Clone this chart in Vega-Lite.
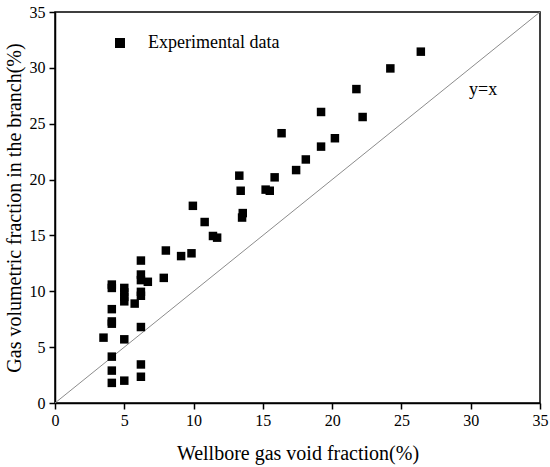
{
  "$schema": "https://vega.github.io/schema/vega-lite/v6.json",
  "autosize": "none",
  "width": 485,
  "height": 391,
  "padding": {"left": 55, "top": 12, "right": 10, "bottom": 64},
  "background": "white",
  "config": {
    "view": {"stroke": "black", "strokeWidth": 1.5},
    "axis": {
      "domainColor": "black", "domainWidth": 1.5,
      "tickColor": "black", "tickWidth": 1.5,
      "labelFont": "Liberation Serif", "labelFontSize": 16, "labelColor": "black",
      "titleFont": "Liberation Serif", "titleFontSize": 20, "titleFontWeight": "normal", "titleColor": "black",
      "grid": false
    }
  },
  "datasets": {
    "points": [
      {"x": 3.5, "y": 5.85, "series": "Experimental data"},
      {"x": 4.1, "y": 10.6, "series": "Experimental data"},
      {"x": 4.1, "y": 10.3, "series": "Experimental data"},
      {"x": 4.1, "y": 8.4, "series": "Experimental data"},
      {"x": 4.1, "y": 7.3, "series": "Experimental data"},
      {"x": 4.1, "y": 7.1, "series": "Experimental data"},
      {"x": 4.1, "y": 4.15, "series": "Experimental data"},
      {"x": 4.1, "y": 2.9, "series": "Experimental data"},
      {"x": 4.1, "y": 1.8, "series": "Experimental data"},
      {"x": 5.0, "y": 10.3, "series": "Experimental data"},
      {"x": 5.0, "y": 9.9, "series": "Experimental data"},
      {"x": 5.0, "y": 9.5, "series": "Experimental data"},
      {"x": 5.0, "y": 9.1, "series": "Experimental data"},
      {"x": 5.0, "y": 5.7, "series": "Experimental data"},
      {"x": 5.0, "y": 2.0, "series": "Experimental data"},
      {"x": 5.75, "y": 8.9, "series": "Experimental data"},
      {"x": 6.2, "y": 12.75, "series": "Experimental data"},
      {"x": 6.2, "y": 11.5, "series": "Experimental data"},
      {"x": 6.2, "y": 11.0, "series": "Experimental data"},
      {"x": 6.7, "y": 10.85, "series": "Experimental data"},
      {"x": 6.2, "y": 9.95, "series": "Experimental data"},
      {"x": 6.2, "y": 9.6, "series": "Experimental data"},
      {"x": 6.2, "y": 6.8, "series": "Experimental data"},
      {"x": 6.2, "y": 3.45, "series": "Experimental data"},
      {"x": 6.2, "y": 2.35, "series": "Experimental data"},
      {"x": 7.85, "y": 11.2, "series": "Experimental data"},
      {"x": 8.0, "y": 13.65, "series": "Experimental data"},
      {"x": 9.1, "y": 13.15, "series": "Experimental data"},
      {"x": 9.85, "y": 13.4, "series": "Experimental data"},
      {"x": 9.95, "y": 17.65, "series": "Experimental data"},
      {"x": 10.8, "y": 16.2, "series": "Experimental data"},
      {"x": 11.4, "y": 14.95, "series": "Experimental data"},
      {"x": 11.7, "y": 14.8, "series": "Experimental data"},
      {"x": 13.3, "y": 20.35, "series": "Experimental data"},
      {"x": 13.4, "y": 19.0, "series": "Experimental data"},
      {"x": 13.55, "y": 17.0, "series": "Experimental data"},
      {"x": 13.5, "y": 16.6, "series": "Experimental data"},
      {"x": 15.2, "y": 19.1, "series": "Experimental data"},
      {"x": 15.5, "y": 19.0, "series": "Experimental data"},
      {"x": 15.85, "y": 20.2, "series": "Experimental data"},
      {"x": 16.35, "y": 24.15, "series": "Experimental data"},
      {"x": 17.4, "y": 20.85, "series": "Experimental data"},
      {"x": 18.1, "y": 21.8, "series": "Experimental data"},
      {"x": 19.2, "y": 22.95, "series": "Experimental data"},
      {"x": 19.2, "y": 26.05, "series": "Experimental data"},
      {"x": 20.2, "y": 23.7, "series": "Experimental data"},
      {"x": 21.75, "y": 28.1, "series": "Experimental data"},
      {"x": 22.2, "y": 25.6, "series": "Experimental data"},
      {"x": 24.2, "y": 29.95, "series": "Experimental data"},
      {"x": 26.4, "y": 31.45, "series": "Experimental data"}
    ],
    "diag": [{"x": 0, "y": 0}, {"x": 35, "y": 35}],
    "note": [{"x": 30.9, "y": 28.0, "label": "y=x"}]
  },
  "layer": [
    {
      "data": {"name": "diag"},
      "mark": {"type": "line", "color": "#8c8c8c", "strokeWidth": 1},
      "encoding": {
        "x": {
          "field": "x", "type": "quantitative",
          "scale": {"domain": [0, 35], "nice": false, "zero": false},
          "axis": {
            "title": "Wellbore gas void fraction(%)",
            "values": [0, 2.5, 5, 7.5, 10, 12.5, 15, 17.5, 20, 22.5, 25, 27.5, 30, 32.5, 35],
            "labelExpr": "datum.value % 5 === 0 ? datum.label : ''",
            "tickSize": {"condition": {"test": "datum.value % 5 !== 0", "value": 3}, "value": 6},
            "labelFont": "Liberation Serif",
            "labelFontSize": 16,
            "labelPadding": 3,
            "titlePadding": 15,
            "labelFlush": false,
            "labelOverlap": false
          }
        },
        "y": {
          "field": "y", "type": "quantitative",
          "scale": {"domain": [0, 35], "nice": false, "zero": false},
          "axis": {
            "title": "Gas volumetric fraction in the branch(%)",
            "values": [0, 2.5, 5, 7.5, 10, 12.5, 15, 17.5, 20, 22.5, 25, 27.5, 30, 32.5, 35],
            "labelExpr": "datum.value % 5 === 0 ? datum.label : ''",
            "tickSize": {"condition": {"test": "datum.value % 5 !== 0", "value": 3}, "value": 6},
            "labelFont": "Liberation Serif",
            "labelFontSize": 16,
            "labelPadding": 4,
            "titlePadding": 5,
            "labelFlush": false,
            "labelOverlap": false
          }
        }
      }
    },
    {
      "data": {"name": "points"},
      "mark": {"type": "square", "size": 72, "opacity": 1, "filled": true},
      "encoding": {
        "x": {"field": "x", "type": "quantitative"},
        "y": {"field": "y", "type": "quantitative"},
        "color": {
          "field": "series", "type": "nominal",
          "scale": {"range": ["black"]},
          "legend": {
            "title": null,
            "orient": "none",
            "legendX": 56,
            "legendY": 22,
            "padding": 0,
            "symbolType": "square",
            "symbolSize": 72,
            "symbolFillColor": "black",
            "symbolStrokeColor": "black",
            "symbolOpacity": 1,
            "labelFont": "Liberation Serif",
            "labelFontSize": 18,
            "labelColor": "black",
            "labelOffset": 19,
            "labelLimit": 400
          }
        }
      }
    },
    {
      "data": {"name": "note"},
      "mark": {"type": "text", "font": "Liberation Serif", "fontSize": 18, "color": "black", "align": "center", "baseline": "middle"},
      "encoding": {
        "x": {"field": "x", "type": "quantitative"},
        "y": {"field": "y", "type": "quantitative"},
        "text": {"field": "label"}
      }
    }
  ]
}
